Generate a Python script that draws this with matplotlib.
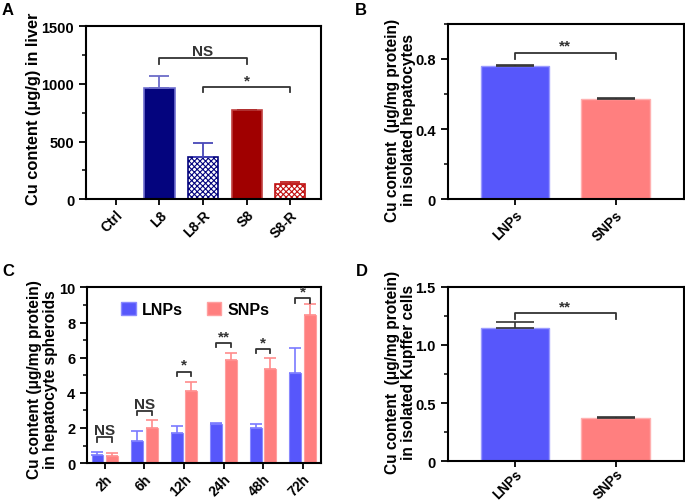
# plot.py - Cu content panels A-D

import numpy as np
import matplotlib.pyplot as plt
from matplotlib.patches import Patch
from matplotlib.ticker import MultipleLocator

plt.rcParams['font.family'] = ['Liberation Sans', 'DejaVu Sans']
plt.rcParams['font.weight'] = 'bold'
plt.rcParams['hatch.linewidth'] = 0.8

# panel A data
a_groups = ["Ctrl", "L8", "L8-R", "S8", "S8-R"]
a_values = [0, 965, 365, 770, 130]
a_errors = [0, 100, 120, 5, 20]

# panel B data
b_groups = ["LNPs", "SNPs"]
b_values = [0.76, 0.57]
b_errors = [0.003, 0.006]

# panel C data
c_times = ["2h", "6h", "12h", "24h", "48h", "72h"]
c_lnps = [0.46, 1.27, 1.69, 2.2, 1.97, 5.1]
c_lnps_err = [0.2, 0.57, 0.44, 0.11, 0.25, 1.45]
c_snps = [0.42, 1.97, 4.12, 5.88, 5.37, 8.44]
c_snps_err = [0.18, 0.48, 0.51, 0.36, 0.59, 0.61]
c_marks = ["NS", "NS", "*", "**", "*", "*"]
c_bracket = [1.46, 2.98, 5.2, 6.83, 6.49, 9.37]

# panel D data
d_groups = ["LNPs", "SNPs"]
d_values = [1.145, 0.375]
d_errors = [0.05, 0.003]

BLUE = "#5757fb"
PINK = "#ff7f7f"
NAVY = "#04047e"
DRED = "#a00000"
LABEL_FS = 11.2


def style_axes(ax):
    for s in ax.spines.values():
        s.set_linewidth(1.5)
    ax.tick_params(axis='y', which='major', width=1.3, length=5, labelsize=10.5)
    ax.tick_params(axis='x', which='major', width=1.3, length=4, labelsize=10, pad=2)
    ax.tick_params(axis='y', which='minor', width=1.1, length=3)
    for lab in ax.get_xticklabels() + ax.get_yticklabels():
        lab.set_fontweight('bold')


def bracket(ax, x1, x2, y, drop, text, color="#333333", fs=11):
    ax.plot([x1, x1, x2, x2], [y - drop, y, y, y - drop], color=color, lw=1.3)
    ax.text((x1 + x2) / 2, y, text, ha='center', va='bottom', fontsize=fs,
            fontweight='bold', color=color)


fig = plt.figure(figsize=(6.85, 5.02), dpi=100)

# ---------------- A ----------------
axA = fig.add_axes([0.1255, 0.601, 0.343, 0.345])
x = np.arange(len(a_groups))
faces = ["white", NAVY, "white", DRED, "white"]
edges = ["white", "#7070d0", NAVY, "#c04040", "#c01010"]
hatches = [None, None, "xxxxxx", None, "xxxxxx"]
errc = ["white", "#6c6cc8", "#4848b8", "#b03030", "#c02020"]
for i in range(1, len(a_groups)):
    axA.bar(x[i], a_values[i], width=0.69, color=faces[i], edgecolor=edges[i],
            hatch=hatches[i], linewidth=1.2)
    axA.errorbar(x[i], a_values[i], yerr=[[0], [a_errors[i]]], fmt='none',
                 ecolor=errc[i], elinewidth=1.3, capsize=7, capthick=1.3)
axA.set_xlim(-0.69, 4.71)
axA.set_ylim(0, 1500)
axA.yaxis.set_major_locator(MultipleLocator(500))
axA.yaxis.set_minor_locator(MultipleLocator(250))
axA.set_xticks(x)
axA.set_xticklabels(a_groups, rotation=45, ha='right', rotation_mode='anchor')
axA.set_ylabel("Cu content (μg/g) in liver", fontsize=LABEL_FS + 0.6, fontweight='bold')
axA.yaxis.set_label_coords(-0.19, 0.53)
bracket(axA, 1, 3, 1220, 50, "NS")
bracket(axA, 2, 4, 970, 45, "*")
style_axes(axA)

# ---------------- B ----------------
axB = fig.add_axes([0.6535, 0.601, 0.345, 0.35])
x = np.arange(len(b_groups))
axB.bar(x, b_values, width=0.68, color=[BLUE, PINK], edgecolor=["#9a9aff", "#ffb0b0"], linewidth=1)
for i in range(len(b_groups)):
    axB.errorbar(x[i], b_values[i], yerr=[[0], [b_errors[i]]], fmt='none',
                 ecolor="#333333", elinewidth=1.2, capsize=14, capthick=1.2)
axB.set_xlim(-0.67, 1.68)
axB.set_ylim(0, 1.0)
axB.yaxis.set_minor_locator(MultipleLocator(0.2))
axB.set_yticks([0, 0.4, 0.8])
axB.set_yticklabels(["0", "0.4", "0.8"])
axB.set_xticks(x)
axB.set_xticklabels(b_groups, rotation=45, ha='right', rotation_mode='anchor')
axB.set_ylabel("Cu content  (μg/mg protein)\nin isolated hepatocytes", fontsize=LABEL_FS,
               fontweight='bold', linespacing=1.05)
axB.yaxis.set_label_coords(-0.135, 0.455)
bracket(axB, 0, 1, 0.835, 0.035, "**")
style_axes(axB)

# ---------------- C ----------------
axC = fig.add_axes([0.127, 0.0755, 0.342, 0.35])
x = np.arange(len(c_times))
off = 0.185
w = 0.3
axC.bar(x - off, c_lnps, width=w, color=BLUE, edgecolor="#8a8aff", linewidth=0.8)
axC.bar(x + off, c_snps, width=w, color=PINK, edgecolor="#ffa0a0", linewidth=0.8)
axC.errorbar(x - off, c_lnps, yerr=[np.zeros(len(x)), c_lnps_err], fmt='none',
             ecolor="#7a7aff", elinewidth=1.2, capsize=4, capthick=1.2)
axC.errorbar(x + off, c_snps, yerr=[np.zeros(len(x)), c_snps_err], fmt='none',
             ecolor="#ff8c8c", elinewidth=1.2, capsize=4, capthick=1.2)
for i in range(len(c_times)):
    bracket(axC, x[i] - off, x[i] + off, c_bracket[i], 0.25, c_marks[i], fs=11)
axC.set_xlim(-0.45, 5.47)
axC.set_ylim(0, 10)
axC.yaxis.set_major_locator(MultipleLocator(2))
axC.yaxis.set_minor_locator(MultipleLocator(1))
axC.set_xticks(x)
axC.set_xticklabels(c_times, rotation=45, ha='right', rotation_mode='anchor')
axC.set_ylabel("Cu content (μg/mg protein)\nin hepatocyte spheroids", fontsize=LABEL_FS,
               fontweight='bold', linespacing=1.05)
axC.yaxis.set_label_coords(-0.125, 0.483)
handles = [Patch(facecolor=BLUE, edgecolor="#8a8aff", label="LNPs"),
           Patch(facecolor=PINK, edgecolor="#ffa0a0", label="SNPs")]
axC.legend(handles=handles, loc='upper left', bbox_to_anchor=(0.085, 1.0), ncol=2,
           frameon=False, prop={'weight': 'bold', 'size': 11.5}, handlelength=0.9,
           handleheight=0.9, columnspacing=1.5, handletextpad=0.4)
style_axes(axC)

# ---------------- D ----------------
axD = fig.add_axes([0.6535, 0.0795, 0.345, 0.347])
x = np.arange(len(d_groups))
axD.bar(x, d_values, width=0.68, color=[BLUE, PINK], edgecolor=["#9a9aff", "#ffb0b0"], linewidth=1)
for i in range(len(d_groups)):
    axD.errorbar(x[i], d_values[i], yerr=[[0], [d_errors[i]]], fmt='none',
                 ecolor="#333333", elinewidth=1.2, capsize=14, capthick=1.2)
axD.set_xlim(-0.67, 1.68)
axD.set_ylim(0, 1.5)
axD.yaxis.set_minor_locator(MultipleLocator(0.25))
axD.set_yticks([0, 0.5, 1.0, 1.5])
axD.set_yticklabels(["0", "0.5", "1.0", "1.5"])
axD.set_xticks(x)
axD.set_xticklabels(d_groups, rotation=45, ha='right', rotation_mode='anchor')
axD.set_ylabel("Cu content  (μg/mg protein)\nin isolated Kupffer cells", fontsize=LABEL_FS,
               fontweight='bold', linespacing=1.05)
axD.yaxis.set_label_coords(-0.135, 0.514)
bracket(axD, 0, 1, 1.275, 0.05, "**")
style_axes(axD)
axD.tick_params(axis='x', pad=0, labelsize=9.8)

# panel letters
for lx, ly, t in [(0.003, 0.994, "A"), (0.518, 0.994, "B"), (0.003, 0.474, "C"), (0.52, 0.474, "D")]:
    fig.text(lx, ly, t, fontsize=12, fontweight='bold', va='top')

fig.savefig("out.png", dpi=100)
